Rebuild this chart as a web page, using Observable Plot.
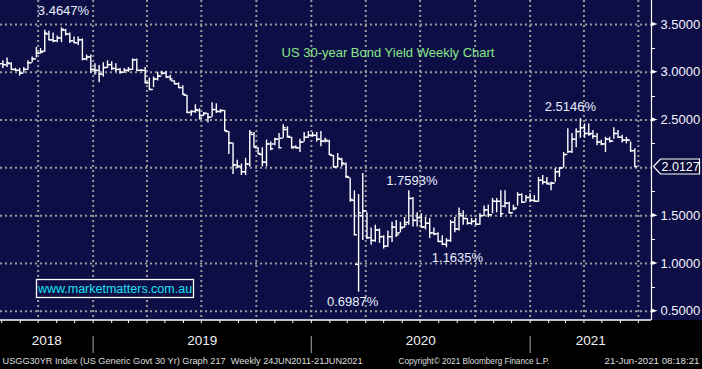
<!DOCTYPE html>
<html><head><meta charset="utf-8">
<script src="https://cdn.jsdelivr.net/npm/d3@7"></script>
<script src="https://cdn.jsdelivr.net/npm/@observablehq/plot@0.6"></script>
<style>html,body{margin:0;padding:0;background:#000;} #chart{width:702px;height:369px;overflow:hidden}</style>
</head><body><div id="chart"></div>
<script>
// ---------- data ----------
const firstWeek = new Date(Date.UTC(2018, 7, 3)); // first weekly bar position
const high = [3.12,3.15,3.10,3.04,3.04,3.05,3.12,3.16,3.26,3.25,3.44,3.43,3.41,3.38,3.4647,3.45,3.41,3.37,3.37,3.35,
3.18,3.18,3.09,3.07,3.10,3.12,3.11,3.09,3.04,3.04,3.05,3.14,3.14,3.03,3.05,2.94,2.95,3.00,3.01,3.01,
2.97,2.91,2.89,2.86,2.76,2.60,2.66,2.62,2.58,2.57,2.68,2.67,2.61,2.60,2.38,2.26,2.08,2.04,2.10,2.39,
2.37,2.21,2.21,2.29,2.27,2.31,2.36,2.45,2.43,2.32,2.23,2.30,2.37,2.38,2.37,2.37,2.38,2.31,2.29,2.13,
2.15,2.10,2.05,1.89,1.76,1.72,1.94,1.53,1.37,1.40,1.36,1.29,1.34,1.43,1.45,1.43,1.48,1.7593,1.69,1.53,
1.52,1.48,1.47,1.37,1.32,1.29,1.26,1.45,1.48,1.58,1.55,1.47,1.47,1.47,1.52,1.60,1.61,1.68,1.68,1.76,
1.76,1.64,1.61,1.74,1.73,1.71,1.73,1.71,1.90,1.92,1.90,1.85,1.99,2.00,2.16,2.41,2.36,2.41,2.5146,2.46,
2.46,2.39,2.36,2.29,2.32,2.32,2.42,2.39,2.34,2.32,2.27,2.20];
const low = [3.04,3.05,3.02,3.01,2.96,2.99,3.02,3.10,3.15,3.19,3.21,3.33,3.31,3.31,3.31,3.38,3.30,3.30,3.28,3.12,
3.12,2.99,2.97,2.89,2.95,3.04,3.02,3.00,2.98,2.99,3.00,3.02,3.01,3.01,2.88,2.81,2.84,2.91,2.97,2.94,
2.91,2.87,2.83,2.76,2.57,2.54,2.57,2.50,2.54,2.47,2.53,2.57,2.57,2.38,2.14,1.93,1.99,1.92,1.92,2.01,
2.21,2.14,2.01,2.01,2.18,2.23,2.20,2.31,2.31,2.20,2.20,2.16,2.27,2.31,2.32,2.27,2.22,2.26,2.13,2.00,
2.00,2.01,1.89,1.64,1.29,0.6987,1.24,1.25,1.19,1.22,1.21,1.15,1.17,1.22,1.27,1.32,1.37,1.40,1.38,1.38,
1.37,1.35,1.26,1.29,1.22,1.19,1.1635,1.22,1.32,1.34,1.40,1.40,1.40,1.40,1.40,1.49,1.48,1.52,1.53,1.48,
1.58,1.52,1.55,1.60,1.63,1.64,1.64,1.64,1.64,1.82,1.82,1.76,1.85,1.90,2.00,2.15,2.15,2.21,2.31,2.31,
2.33,2.30,2.23,2.23,2.16,2.26,2.30,2.31,2.26,2.25,2.16,2.0127];
const open = [3.09,3.08,3.09,3.03,3.02,2.99,3.03,3.10,3.14,3.20,3.22,3.40,3.34,3.33,3.36,3.44,3.40,3.33,3.31,3.34,
3.14,3.16,3.03,3.02,2.98,3.05,3.08,3.04,3.03,3.00,3.02,3.03,3.13,3.02,3.02,2.89,2.82,2.93,2.96,2.99,
2.95,2.91,2.88,2.84,2.76,2.58,2.59,2.60,2.55,2.57,2.53,2.61,2.59,2.60,2.38,2.26,2.03,2.01,1.96,2.04,
2.35,2.21,2.14,2.06,2.25,2.25,2.30,2.31,2.40,2.32,2.22,2.21,2.27,2.32,2.34,2.34,2.30,2.28,2.28,2.13,
2.01,2.09,2.04,1.90,1.66,0.99,1.50,1.55,1.27,1.24,1.35,1.28,1.18,1.28,1.38,1.32,1.38,1.43,1.68,1.45,
1.48,1.38,1.42,1.32,1.31,1.23,1.20,1.24,1.43,1.36,1.50,1.47,1.42,1.44,1.41,1.50,1.56,1.51,1.65,1.65,
1.60,1.63,1.53,1.58,1.72,1.64,1.69,1.66,1.65,1.87,1.85,1.83,1.84,1.96,2.00,2.14,2.17,2.30,2.38,2.42,
2.36,2.36,2.33,2.27,2.25,2.30,2.28,2.36,2.32,2.29,2.29,2.18];
const close = [3.08,3.10,3.03,3.02,2.99,3.03,3.10,3.14,3.20,3.21,3.41,3.34,3.33,3.36,3.45,3.40,3.33,3.31,3.34,3.14,
3.16,3.03,3.02,2.98,3.05,3.08,3.04,3.03,3.00,3.02,3.03,3.13,3.02,3.02,2.89,2.82,2.93,2.96,2.99,2.95,
2.93,2.88,2.84,2.77,2.58,2.59,2.61,2.52,2.57,2.53,2.61,2.59,2.60,2.39,2.26,2.03,2.02,1.96,2.04,2.37,
2.22,2.15,2.06,2.25,2.20,2.30,2.21,2.42,2.33,2.21,2.21,2.27,2.32,2.34,2.34,2.30,2.28,2.29,2.14,2.01,
2.10,2.05,1.91,1.67,1.30,1.53,1.55,1.27,1.24,1.35,1.28,1.18,1.28,1.38,1.30,1.37,1.41,1.68,1.45,1.48,
1.38,1.42,1.32,1.31,1.23,1.20,1.24,1.43,1.36,1.52,1.47,1.42,1.44,1.41,1.50,1.56,1.51,1.65,1.65,1.52,
1.63,1.53,1.57,1.72,1.64,1.69,1.66,1.65,1.87,1.85,1.84,1.84,1.96,2.00,2.14,2.17,2.30,2.38,2.42,2.36,
2.35,2.33,2.27,2.25,2.30,2.28,2.36,2.32,2.29,2.29,2.18,2.0127];

const yLabelTicks = [0.5, 1.0, 1.5, 2.5, 3.0, 3.5];
const yMinorTicks = [0.75, 1.25, 1.75, 2.25, 2.75, 3.25];
const yGrid = [0.5, 1.0, 1.5, 2.0, 2.5, 3.0, 3.5];
const yearNames = ["2018", "2019", "2020", "2021"];
const annotIndex = [14, 138, 97, 106, 85];
const annotValue = [3.4647, 2.5146, 1.7593, 1.1635, 0.6987];
const annotText = ["3.4647%", "2.5146%", "1.7593%", "1.1635%", "0.6987%"];
const annotDx = [2, -10, 3, 11, -6];
const annotDy = [-17, -12, -10, 10, 10];
const titleText = "US 30-year Bond Yield Weekly Chart";
const watermark = "www.marketmatters.com.au";
const footerTexts = ["USGG30YR Index (US Generic Govt 30 Yr) Graph 217  Weekly 24JUN2011-21JUN2021",
  "Copyright\u00A9 2021 Bloomberg Finance L.P.", "21-Jun-2021 08:18:21"];
const footerX = [2, 398, 604];
const footerW = [360, 151, 95];

// ---------- layout ----------
const W = 702, H = 369, MR = 51, MB = 50;
const xDomain = [new Date(Date.UTC(2018, 6, 30)), new Date(Date.UTC(2021, 6, 23))];
const yDomain = [0.4132, 3.7511];
const NAVY = "#0e0e46";
const fmt4 = d3.format(".4f");

const bars = high.map((h, i) => {
  const date = d3.utcDay.offset(firstWeek, 7 * i);
  return {date, high: h, low: low[i], open: open[i], close: close[i],
    left: d3.utcHour.offset(date, -120), right: d3.utcHour.offset(date, 120)};
});
const lastClose = close[close.length - 1];
const quarters = d3.utcMonth.every(3).range(xDomain[0], xDomain[1]);
const months = d3.utcMonth.range(xDomain[0], xDomain[1]);
const yearStarts = d3.utcYear.range(xDomain[0], xDomain[1]);
const yearLabels = yearNames.map((name) => {
  const a = new Date(Date.UTC(+name, 0, 1)), b = new Date(Date.UTC(+name + 1, 0, 1));
  const s = Math.max(a, xDomain[0]), e = Math.min(b, xDomain[1]);
  return {name, mid: new Date((s + e) / 2)};
});

function rightDecor(index, scales, values, dims) {
  const g = d3.create("svg:g");
  const x0 = dims.width - dims.marginRight;
  for (const v of yLabelTicks) {
    const y = scales.y(v);
    g.append("path").attr("d", `M${x0},${y - 2.3}L${x0 + 6.5},${y}L${x0},${y + 2.3}Z`).attr("fill", "white");
  }
  for (const v of yMinorTicks) {
    const y = Math.round(scales.y(v)) + 0.5;
    g.append("line").attr("x1", x0).attr("x2", x0 + 4).attr("y1", y).attr("y2", y).attr("stroke", "white");
  }
  // last price box
  const y = Math.round(scales.y(lastClose)) + 0.5;
  const bx = x0 + 2.5;
  g.append("path")
    .attr("d", `M${bx},${y}L${bx + 7},${y - 7.5}H${dims.width - 2.5}V${y + 7.5}H${bx + 7}Z`)
    .attr("fill", "#0a0a38").attr("stroke", "white").attr("stroke-width", 1.2);
  g.append("text").attr("x", bx + 8).attr("y", y).attr("dy", "0.36em").attr("text-anchor", "start")
    .attr("fill", "white").attr("font-size", 12.5).text(fmt4(lastClose));
  // watermark box
  g.append("rect").attr("x", 36.5).attr("y", 279.5).attr("width", 157).attr("height", 18)
    .attr("fill", NAVY).attr("stroke", "white").attr("stroke-width", 1.3);
  g.append("text").attr("x", 115).attr("y", 288.5).attr("dy", "0.36em").attr("text-anchor", "middle")
    .attr("fill", "#19e3f5").attr("font-size", 12.5).text(watermark);
  return g.node();
}

const marks = [
  // dotted grid
  Plot.ruleY(yGrid, {y: d => d, stroke: "#9a9a9a", strokeWidth: 2, strokeDasharray: "2,3"}),
  Plot.ruleX(quarters, {x: d => d, stroke: "#9a9a9a", strokeWidth: 2, strokeDasharray: "2,3"}),
  // axis lines and ticks
  Plot.ruleX([xDomain[1]], {x: d => d, stroke: "white", strokeWidth: 1.2, insetBottom: -1}),
  Plot.ruleY([yDomain[0]], {y: d => d, stroke: "white", strokeWidth: 1.5, dy: 0.5}),
  Plot.ruleX(months, {x: d => d, stroke: "white", insetTop: 320, insetBottom: -4}),
  Plot.ruleX(yearStarts, {x: d => d, stroke: "#8a8a8a", strokeWidth: 1.2, insetTop: 336, insetBottom: -34}),
  Plot.text(yearLabels, {x: "mid", text: "name", frameAnchor: "bottom", dy: 25, fill: "#f2f2f2", fontSize: 13.5}),
  // OHLC bars
  Plot.ruleX(bars, {x: "date", y1: "low", y2: "high", stroke: "white", strokeWidth: 1.4}),
  Plot.ruleY(bars, {y: "open", x1: "left", x2: "date", stroke: "white", strokeWidth: 1.4}),
  Plot.ruleY(bars, {y: "close", x1: "date", x2: "right", stroke: "white", strokeWidth: 1.4}),
  // right axis labels
  Plot.text(yLabelTicks, {y: d => d, text: d => fmt4(d), frameAnchor: "right", dx: 9, textAnchor: "start", fill: "#f4f4ff", fontSize: 13}),
  rightDecor,
  // title
  Plot.text([titleText], {text: d => d, frameAnchor: "top-left", dx: 281, dy: 52, textAnchor: "start", lineAnchor: "middle", fill: "#86e886", fontSize: 13}),
  // annotations
  ...annotText.map((t, i) => Plot.text([i], {
    x: j => bars[annotIndex[j]].date, y: j => annotValue[j], text: j => annotText[j],
    dx: annotDx[i], dy: annotDy[i], fill: "#e8eeff", fontSize: 13
  })),
  // footer
  ...footerTexts.map((t, i) => Plot.text([t], {text: d => d, frameAnchor: "bottom-left", dx: footerX[i], dy: 41,
    textAnchor: "start", lineAnchor: "middle", fill: "#dedede", fontSize: 9.5}))
];

const chart = Plot.plot({
  width: W, height: H,
  marginTop: 0, marginLeft: 0, marginRight: MR, marginBottom: MB,
  x: {type: "utc", domain: xDomain, axis: null},
  y: {domain: yDomain, axis: null},
  style: {
    background: `linear-gradient(to bottom, ${NAVY} 0px, ${NAVY} 320px, #000 320px)`,
    fontFamily: "'Liberation Sans', Arial, sans-serif", fontSize: "13px", color: "white"
  },
  marks
});
// fit footer widths like the condensed original font
chart.querySelectorAll("text").forEach(el => {
  const k = footerTexts.indexOf(el.textContent);
  if (k >= 0) { el.setAttribute("textLength", footerW[k]); el.setAttribute("lengthAdjust", "spacingAndGlyphs"); }
});
document.getElementById("chart").appendChild(chart);
</script>
</body></html>
